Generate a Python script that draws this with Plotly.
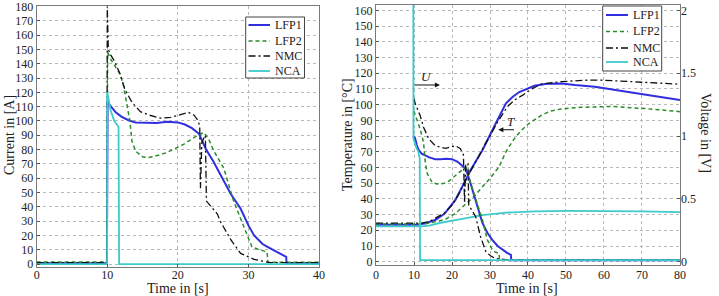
import plotly.graph_objects as go

# ---------------- data: left panel (current) ----------------
lfp1_t = [0, 9.95, 10.05, 10.5, 11.2, 12, 13, 14, 15.5, 17, 18.5, 20, 21, 22, 23, 24, 25, 26, 27.5, 28.9, 30, 30.8, 32, 32.7, 34, 34.6, 35.35, 35.4, 40]
lfp1_i = [0.5, 0.5, 113, 110, 106, 103, 100.5, 99, 98.5, 98.5, 99.5, 99, 97.5, 95, 91, 80, 72, 63, 49, 38.6, 27, 20, 14, 12, 8.5, 7.4, 5, 0.6, 0.6]

lfp2_t = [0, 9.95, 10.05, 10.5, 11, 11.8, 12.3, 12.8, 13.2, 13.5, 14, 15, 15.7, 16.5, 18.4, 20.8, 22.5, 23.7, 24.4, 25.1, 26.5, 27.9, 29.3, 30.5, 31.5, 32.65, 32.75, 40]
lfp2_i = [1.5, 1.5, 148, 143, 139, 133, 125, 112, 100, 86, 79, 75, 74.3, 75, 77.8, 83.6, 89, 92, 87, 79, 67, 44, 26, 12, 10, 8.5, 1.2, 1.2]

nmc_t = [0, 9.95, 10.0, 10.15, 10.5, 11, 11.8, 12.5, 13.5, 14.7, 16, 17.5, 19, 20.5, 21.5, 22.3, 22.9, 23.1, 23.2, 23.4, 23.9, 24.05, 25.6, 26, 27.5, 28.9, 30.8, 32, 33, 40]
nmc_i = [1, 1, 180, 150, 146, 142, 133, 122, 113, 106.5, 104, 102, 102.5, 104.5, 106, 104, 100, 96, 53, 85, 90, 44, 35, 30, 17, 7.4, 3.3, 2, 1, 1]

nca_t = [0, 9.98, 10.0, 10.2, 10.5, 11.0, 11.6, 11.68, 40]
nca_i = [0, 0, 120, 114, 107, 100, 96, 0, 0]

# ---------------- data: right panel (temperature, °C) ----------------
lfp1_T_t = [0, 11, 13, 15.6, 18, 20.9, 23.6, 24.9, 28, 29.3, 31.5, 34.2, 36, 37.7, 41.7, 45, 49, 52.3, 57.6, 66.4, 73, 80]
lfp1_T = [23.5, 23.5, 24.5, 26.5, 30.5, 39.3, 52, 58.4, 71, 77.5, 88, 100.8, 105, 108, 112, 113.3, 113.5, 112.5, 111.4, 108, 105.5, 103]

lfp2_T_t = [0, 12, 14, 16, 18.3, 21, 23.6, 26, 28, 30, 32.4, 34.2, 36, 38, 40, 41.7, 43.4, 46, 48.7, 54, 62, 70.7, 80]
lfp2_T = [24, 24, 24.5, 25.5, 27, 31, 37, 42, 47.7, 53, 60.5, 70, 77, 83, 87.5, 90.2, 93, 96, 97.2, 98.3, 98.8, 97.5, 95.5]

nmc_T_t = [0, 12, 14, 16, 18, 20, 22, 23.6, 25, 27, 28.5, 30, 32, 34.6, 36.5, 38.6, 41, 43.4, 48.7, 55.8, 60, 66.4, 73, 80]
nmc_T = [24.5, 24.5, 25.5, 28, 31, 36, 44, 52, 58, 67, 74, 80, 89, 98.7, 103, 106, 110, 113, 114.6, 115.6, 115.5, 114.6, 114, 113]

nca_T_t = [0, 12, 14, 17, 20.9, 25, 28, 34.2, 42, 50, 60, 70, 80]
nca_T = [22.5, 22.5, 23, 24.8, 26.5, 28.3, 29.7, 31.2, 32, 32.3, 32.3, 32, 31.6]

# ---------------- data: right panel (voltage, V) ----------------
lfp1_U_t = [10, 10.3, 10.7, 11.2, 12, 13, 14, 15.6, 17, 18.5, 20, 21.5, 22.7, 23.6, 24.5, 25.3, 26.7, 28, 29.3, 30.6, 32, 33.3, 34.5, 35.5, 35.6, 80]
lfp1_U = [1.0, 0.98, 0.93, 0.89, 0.86, 0.843, 0.83, 0.816, 0.815, 0.82, 0.816, 0.795, 0.762, 0.74, 0.66, 0.575, 0.441, 0.308, 0.23, 0.174, 0.125, 0.094, 0.07, 0.054, 0.012, 0.012]

lfp2_U_t = [10, 10.3, 11, 11.6, 12.5, 13, 13.5, 14.2, 14.8, 16.5, 18, 19.2, 21, 21.8, 23.6, 24.2, 24.9, 26.7, 28, 29.3, 30.6, 31.5, 32.4, 32.5, 80]
lfp2_U = [1.2, 1.164, 1.11, 1.057, 0.95, 0.78, 0.70, 0.655, 0.629, 0.616, 0.625, 0.642, 0.69, 0.709, 0.75, 0.70, 0.629, 0.455, 0.335, 0.174, 0.094, 0.075, 0.067, 0.012, 0.012]

nmc_U_t = [10, 10.3, 11.6, 12.5, 13.9, 15.6, 18.3, 20.9, 22.2, 23.0, 23.3, 23.6, 24.2, 24.4, 26.2, 27.5, 28.9, 30.2, 31.5, 35, 80]
nmc_U = [1.3, 1.258, 1.164, 1.07, 0.977, 0.923, 0.902, 0.923, 0.9, 0.85, 0.47, 0.78, 0.78, 0.45, 0.36, 0.2, 0.08, 0.045, 0.025, 0.015, 0.012]

nca_U_t = [9.8, 9.85, 10.7, 11.1, 11.5, 11.6, 80]
nca_U = [3.0, 0.98, 0.90, 0.88, 0.82, 0.012, 0.012]

series_names = ["LFP1", "LFP2", "NMC", "NCA"]

# ---------------- styling ----------------
FONT = "Liberation Serif, Times New Roman, serif"
TICK_FONT = dict(family=FONT, size=12, color="#222222")
styles = {
    "LFP1": dict(color="#2f2fe0", width=2, dash="solid"),
    "LFP2": dict(color="#2a8c2a", width=1.5, dash="4px,3px"),
    "NMC": dict(color="#111111", width=1.3, dash="7px,3px,2px,3px"),
    "NCA": dict(color="#3ccaca", width=1.8, dash="solid"),
}

fig = go.Figure()

left = [(lfp1_t, lfp1_i), (lfp2_t, lfp2_i), (nmc_t, nmc_i), (nca_t, nca_i)]
for name, (t, v) in zip(series_names, left):
    fig.add_trace(go.Scatter(x=t, y=v, mode="lines", name=name, line=styles[name],
                             xaxis="x", yaxis="y", showlegend=False))

rightT = [(lfp1_T_t, lfp1_T), (lfp2_T_t, lfp2_T), (nmc_T_t, nmc_T), (nca_T_t, nca_T)]
rightU = [(lfp1_U_t, lfp1_U), (lfp2_U_t, lfp2_U), (nmc_U_t, nmc_U), (nca_U_t, nca_U)]
for name, (t, v) in zip(series_names, rightT):
    fig.add_trace(go.Scatter(x=t, y=v, mode="lines", name=name, line=styles[name],
                             xaxis="x2", yaxis="y2", showlegend=False))
for name, (t, v) in zip(series_names, rightU):
    fig.add_trace(go.Scatter(x=t, y=v, mode="lines", name=name, line=styles[name],
                             xaxis="x2", yaxis="y3", showlegend=False))

axis_common = dict(showline=True, linecolor="#7a7a7a", linewidth=1.2, mirror=True,
                   ticks="inside", ticklen=3, tickcolor="#555555",
                   showgrid=True, gridcolor="#b8b8b8", griddash="dot", gridwidth=1,
                   zeroline=False, tickfont=TICK_FONT,
                   automargin=False, ticklabeloverflow="allow")

fig.update_layout(
    template="none",
    width=719, height=296,
    margin=dict(l=0, r=0, t=0, b=0),
    paper_bgcolor="white", plot_bgcolor="white",
    font=dict(family=FONT, size=13, color="#222222"),
    showlegend=False,
    xaxis=dict(domain=[0.051, 0.4437], range=[0, 40], dtick=10, anchor="y",
               ticklabelstandoff=-3, **axis_common),
    yaxis=dict(domain=[0.099, 0.981], range=[-1.85, 180.6], dtick=10, anchor="x", **axis_common),
    xaxis2=dict(domain=[0.523, 0.9457], range=[0, 80], dtick=10, anchor="y2",
                ticklabelstandoff=-2, **axis_common),
    yaxis2=dict(domain=[0.1047, 0.9831], range=[-2.1, 163.4], dtick=10, anchor="x2", **axis_common),
    yaxis3=dict(overlaying="y2", side="right", anchor="x2", range=[-2.1 / 80, 163.4 / 80],
                tickvals=[0, 0.5, 1, 1.5, 2], ticktext=["0", "0.5", "1", "1.5", "2"],
                ticks="inside", ticklen=3, tickcolor="#555555", showgrid=False, zeroline=False,
                showline=False, tickfont=TICK_FONT,
                automargin=False, ticklabeloverflow="allow"),
)

W, H = 719, 296
def px(x):
    return x / W
def py(y):
    return 1 - y / H

# ---- hand-built legend boxes (MATLAB style) ----
legend_boxes = [
    dict(box=(245.7, 17, 304.5, 78), rows=[25, 41, 56, 71], line_x=(248.5, 270), text_x=273),
    dict(box=(602.7, 6, 661.7, 71), rows=[15, 31.5, 48, 62], line_x=(606, 628), text_x=630.5),
]
for lb in legend_boxes:
    x0, y0, x1, y1 = lb["box"]
    fig.add_shape(type="rect", xref="paper", yref="paper", x0=px(x0), x1=px(x1), y0=py(y1), y1=py(y0),
                  line=dict(color="#444444", width=1), fillcolor="white", layer="above")
    for name, ry in zip(series_names, lb["rows"]):
        st = styles[name]
        fig.add_shape(type="line", xref="paper", yref="paper", x0=px(lb["line_x"][0]), x1=px(lb["line_x"][1]),
                      y0=py(ry), y1=py(ry), line=dict(color=st["color"], width=st["width"], dash=st["dash"]),
                      layer="above")
        fig.add_annotation(text=name, xref="paper", yref="paper", x=px(lb["text_x"]), y=py(ry),
                           xanchor="left", yanchor="middle", showarrow=False,
                           font=dict(family=FONT, size=12, color="#222222"))

ann_font = dict(family=FONT, size=14, color="#222222")
fig.add_annotation(text="Current in [A]", xref="paper", yref="paper", x=px(9), y=py(135),
                   textangle=-90, showarrow=False, font=ann_font, xanchor="center", yanchor="middle")
fig.add_annotation(text="Time in [s]", xref="paper", yref="paper", x=px(178), y=py(288),
                   showarrow=False, font=ann_font, xanchor="center", yanchor="middle")
fig.add_annotation(text="Time in [s]", xref="paper", yref="paper", x=px(527), y=py(288),
                   showarrow=False, font=ann_font, xanchor="center", yanchor="middle")
fig.add_annotation(text="Temperature in [°C]", xref="paper", yref="paper", x=px(347), y=py(135),
                   textangle=-90, showarrow=False, font=ann_font, xanchor="center", yanchor="middle")
fig.add_annotation(text="Voltage in [V]", xref="paper", yref="paper", x=px(706), y=py(133),
                   textangle=90, showarrow=False, font=ann_font, xanchor="center", yanchor="middle")

# U and T arrows
fig.add_annotation(x=16.8, y=112.5, ax=9.8, ay=112.5, xref="x2", yref="y2", axref="x2", ayref="y2",
                   showarrow=True, arrowhead=2, arrowsize=1, arrowwidth=1, arrowcolor="#111111", text="")
fig.add_annotation(text="<i>U</i>", x=13.3, y=118, xref="x2", yref="y2", showarrow=False,
                   font=dict(family=FONT, size=13, color="#222222"))
fig.add_annotation(x=32.2, y=84, ax=36.7, ay=84, xref="x2", yref="y2", axref="x2", ayref="y2",
                   showarrow=True, arrowhead=2, arrowsize=1, arrowwidth=1, arrowcolor="#111111", text="")
fig.add_annotation(text="<i>T</i>", x=35.6, y=89, xref="x2", yref="y2", showarrow=False,
                   font=dict(family=FONT, size=13, color="#222222"))

fig.write_html("out.html")
